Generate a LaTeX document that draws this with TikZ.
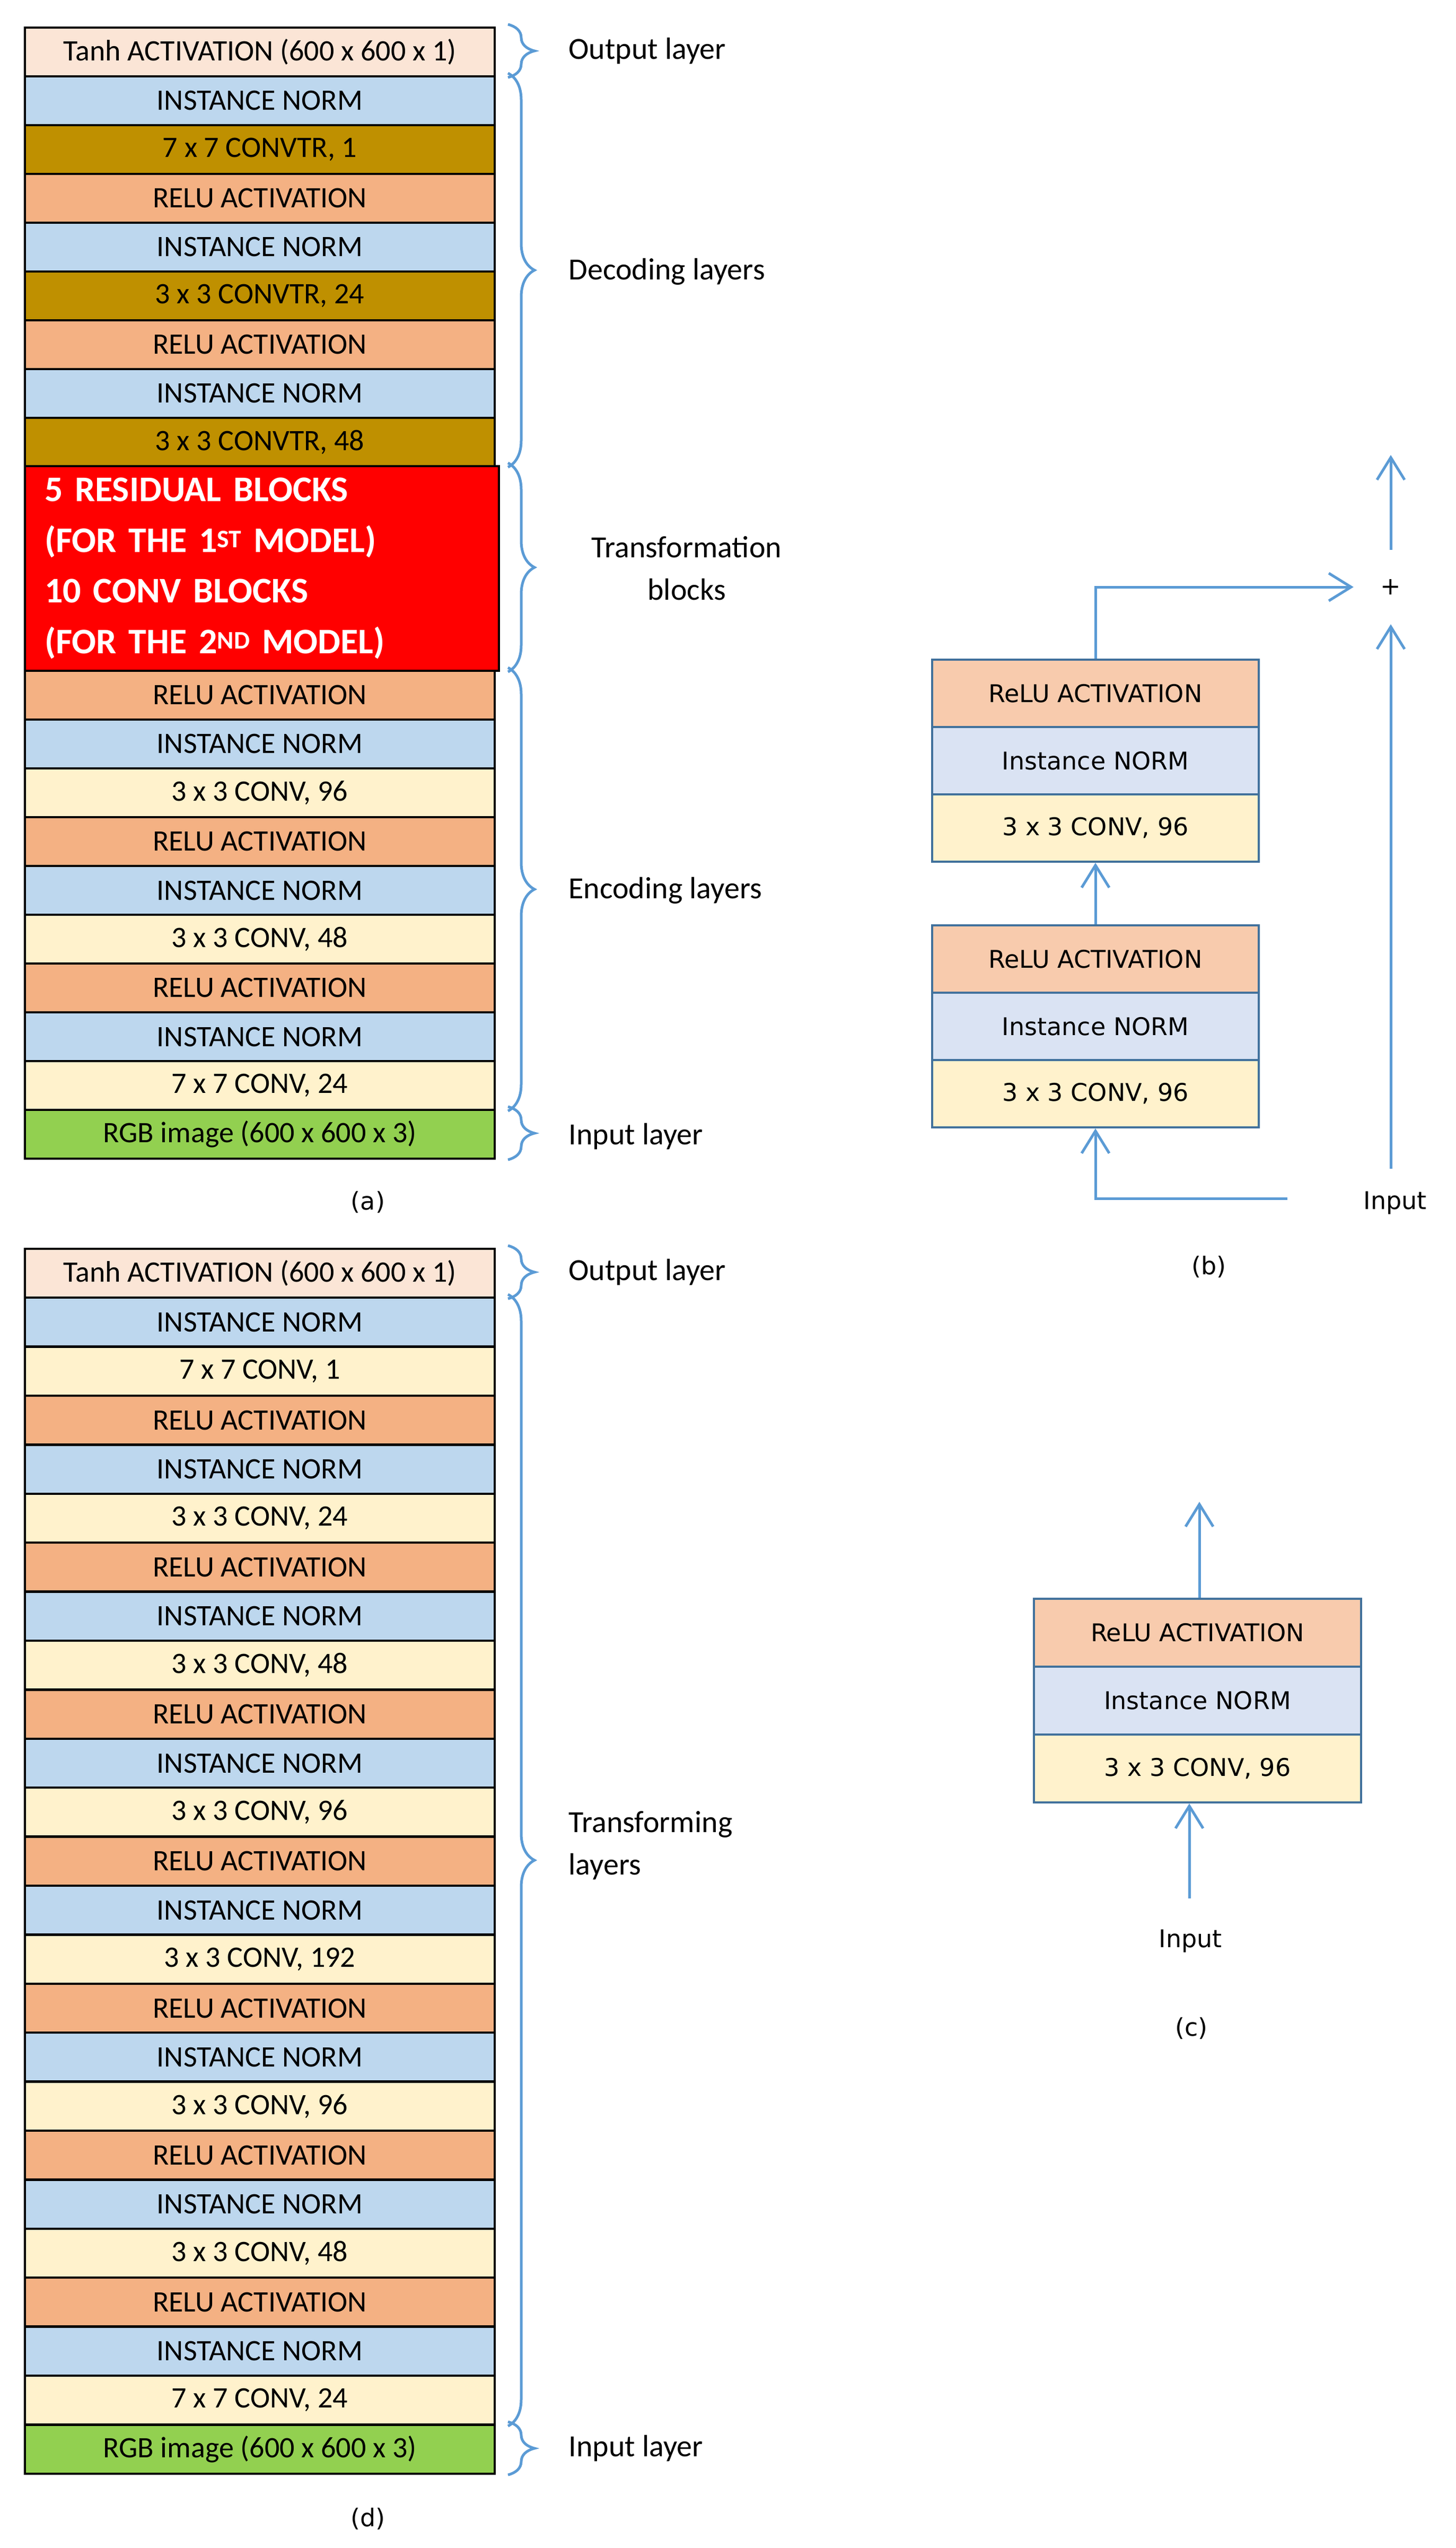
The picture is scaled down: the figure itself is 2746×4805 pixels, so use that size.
\documentclass[tikz,border=0pt]{standalone}
\usepackage{fontspec}
\setmainfont{Carlito}
\newfontfamily\dvs{DejaVu Sans}
\usetikzlibrary{arrows.meta,decorations.pathreplacing}
\definecolor{ctanh}{HTML}{FBE5D6}
\definecolor{cin}{HTML}{BDD7EE}
\definecolor{ctr}{HTML}{BF9000}
\definecolor{crelu}{HTML}{F4B183}
\definecolor{cconv}{HTML}{FFF2CC}
\definecolor{crgb}{HTML}{92D050}
\definecolor{bl}{HTML}{5B9BD5}
\definecolor{bbord}{HTML}{41719C}
\definecolor{bre}{HTML}{F8CBAD}
\definecolor{bin}{HTML}{DAE3F3}
\tikzset{
  row/.style={draw=black,line width=4pt,minimum width=886pt,minimum height=92pt,anchor=north west,inner sep=0pt,font=\fontsize{56}{60}\selectfont},
  brc/.style={draw=bl,line width=5pt,decorate,decoration={brace,amplitude=50pt}},
  lab/.style={anchor=west,font=\fontsize{58}{80}\selectfont},
  bbox/.style={draw=bbord,line width=4pt,minimum width=616pt,minimum height=127pt,anchor=north west,inner sep=0pt,font=\dvs\fontsize{46}{50}\selectfont},
  arr/.style={draw=bl,line width=5pt,-{Straight Barb[length=42pt,width=52pt,line width=5pt]}},
  dlab/.style={font=\dvs\fontsize{46}{50}\selectfont}
}
\begin{document}
\begin{tikzpicture}[x=1pt,y=-1pt]
\useasboundingbox (0,0) rectangle (2746,4805);
% (a) decoding
\foreach \t/\c [count=\i] in {{Tanh ACTIVATION (600 x 600 x 1)}/ctanh,{INSTANCE NORM}/cin,{7 x 7 CONVTR, 1}/ctr,{RELU ACTIVATION}/crelu,{INSTANCE NORM}/cin,{3 x 3 CONVTR, 24}/ctr,{RELU ACTIVATION}/crelu,{INSTANCE NORM}/cin,{3 x 3 CONVTR, 48}/ctr}
  \node[row,fill=\c] (a\i) at (45,{50+92*(\i-1)}) {\t};
\node[row,fill=red,minimum height=386pt,text width=820pt,inner xsep=37pt,align=left,text=white,font=\fontsize{68}{95.5}\selectfont\bfseries] (ared) at (45,877) {5 RESIDUAL BLOCKS\\(FOR THE 1\textsuperscript{ST} MODEL)\\10 CONV BLOCKS\\(FOR THE 2\textsuperscript{ND} MODEL)};
\foreach \t/\c [count=\i] in {{RELU ACTIVATION}/crelu,{INSTANCE NORM}/cin,{3 x 3 CONV, 96}/cconv,{RELU ACTIVATION}/crelu,{INSTANCE NORM}/cin,{3 x 3 CONV, 48}/cconv,{RELU ACTIVATION}/crelu,{INSTANCE NORM}/cin,{7 x 7 CONV, 24}/cconv,{RGB image (600 x 600 x 3)}/crgb}
  \node[row,fill=\c] (e\i) at (45,{1263+92*(\i-1)}) {\t};
\coordinate (ab0) at (958,50); \coordinate (ab1) at (958,142);
\coordinate (ab2) at (958,877); \coordinate (ab3) at (958,1263);
\coordinate (ab4) at (958,2091); \coordinate (ab5) at (958,2183);
\draw[brc] ([yshift=4pt]ab0) -- ([yshift=-4pt]ab1);
\draw[brc] ([yshift=4pt]ab1) -- ([yshift=-4pt]ab2);
\draw[brc] ([yshift=4pt]ab2) -- ([yshift=-4pt]ab3);
\draw[brc] ([yshift=4pt]ab3) -- ([yshift=-4pt]ab4);
\draw[brc] ([yshift=4pt]ab4) -- ([yshift=-4pt]ab5);
\node[lab] (l1) at (1069,96) {Output layer};
\node[lab] (l2) at (1069,512) {Decoding layers};
\node[lab,anchor=center,align=center] (l3) at (1295,1072) {Transformation\\blocks};
\node[lab] (l4) at (1069,1679) {Encoding layers};
\node[lab] (l5) at (1069,2143) {Input layer};
\node[dlab] (cap a) at (694,2267) {(a)};
% (d)
\foreach \t/\c [count=\i] in {{Tanh ACTIVATION (600 x 600 x 1)}/ctanh,{INSTANCE NORM}/cin,{7 x 7 CONV, 1}/cconv,{RELU ACTIVATION}/crelu,{INSTANCE NORM}/cin,{3 x 3 CONV, 24}/cconv,{RELU ACTIVATION}/crelu,{INSTANCE NORM}/cin,{3 x 3 CONV, 48}/cconv,{RELU ACTIVATION}/crelu,{INSTANCE NORM}/cin,{3 x 3 CONV, 96}/cconv,{RELU ACTIVATION}/crelu,{INSTANCE NORM}/cin,{3 x 3 CONV, 192}/cconv,{RELU ACTIVATION}/crelu,{INSTANCE NORM}/cin,{3 x 3 CONV, 96}/cconv,{RELU ACTIVATION}/crelu,{INSTANCE NORM}/cin,{3 x 3 CONV, 48}/cconv,{RELU ACTIVATION}/crelu,{INSTANCE NORM}/cin,{7 x 7 CONV, 24}/cconv,{RGB image (600 x 600 x 3)}/crgb}
  \node[row,fill=\c] (d\i) at (45,{2353+92.4*(\i-1)}) {\t};
\coordinate (db0) at (958,2353); \coordinate (db1) at (958,2445);
\coordinate (db2) at (958,4571); \coordinate (db3) at (958,4663);
\draw[brc] ([yshift=4pt]db0) -- ([yshift=-4pt]db1);
\draw[brc] ([yshift=4pt]db1) -- ([yshift=-4pt]db2);
\draw[brc] ([yshift=4pt]db2) -- ([yshift=-4pt]db3);
\node[lab] (m1) at (1069,2399) {Output layer};
\node[lab,align=left] (m2) at (1069,3480) {Transforming\\layers};
\node[lab] (m3) at (1069,4617) {Input layer};
\node[dlab] (cap d) at (694,4750) {(d)};
% (b)
\node[bbox,fill=bre] (b1) at (1756,1242) {ReLU ACTIVATION};
\node[bbox,fill=bin] (b2) at (1756,1369) {Instance NORM};
\node[bbox,fill=cconv] (b3) at (1756,1496) {3 x 3 CONV, 96};
\node[bbox,fill=bre] (b4) at (1756,1743) {ReLU ACTIVATION};
\node[bbox,fill=bin] (b5) at (1756,1870) {Instance NORM};
\node[bbox,fill=cconv] (b6) at (1756,1997) {3 x 3 CONV, 96};
\node[dlab,minimum size=140pt,inner sep=0pt] (plus) at (2623,1107) {+};
\node[dlab] (inb) at (2631,2268) {Input};
\coordinate (inL) at (2428,2260);
\coordinate (inR) at (2623,2204);
\coordinate (outb) at (2623,858);
\draw[arr] (b4.north) -- (b3.south);
\draw[arr] (inL) -| (b6.south);
\draw[arr] (inR) -- (plus.south);
\draw[arr] (b1.north) |- (plus.west);
\draw[arr] (plus.north) -- (outb);
\node[dlab] (cap b) at (2280,2389) {(b)};
% (c)
\node[bbox,fill=bre,minimum width=617pt,minimum height=128pt] (c1) at (1948,3013) {ReLU ACTIVATION};
\node[bbox,fill=bin,minimum width=617pt,minimum height=128pt] (c2) at (1948,3141) {Instance NORM};
\node[bbox,fill=cconv,minimum width=617pt,minimum height=128pt] (c3) at (1948,3269) {3 x 3 CONV, 96};
\coordinate (outc) at (2262,2832);
\coordinate (inc0) at (2243,3580);
\draw[arr] (c1.north -| outc) -- (outc);
\draw[arr] (inc0) -- (inc0 |- c3.south);
\node[dlab] (inc) at (2245,3660) {Input};
\node[dlab] (cap c) at (2247,3825) {(c)};
\end{tikzpicture}
\end{document}
